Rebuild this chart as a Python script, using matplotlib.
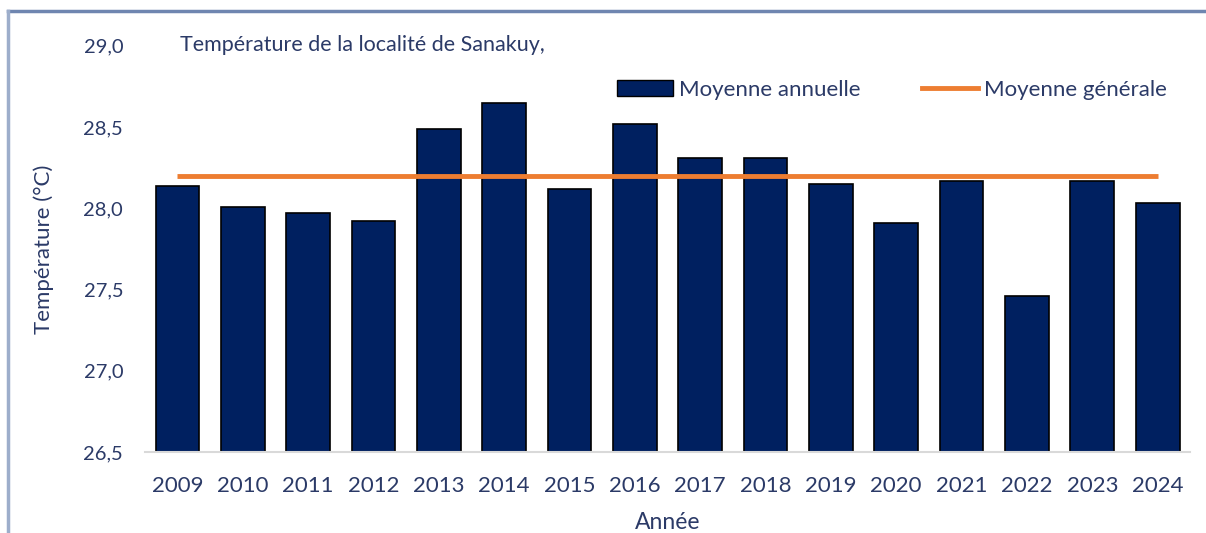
import matplotlib.pyplot as plt
from matplotlib.lines import Line2D
import numpy as np

plt.rcParams['font.family'] = ['Lato', 'DejaVu Sans']

# data
annees = ['2009', '2010', '2011', '2012', '2013', '2014', '2015', '2016',
          '2017', '2018', '2019', '2020', '2021', '2022', '2023', '2024']
moyenne_annuelle = [28.14, 28.01, 27.97, 27.92, 28.49, 28.65, 28.12, 28.52,
                    28.31, 28.31, 28.15, 27.91, 28.17, 27.46, 28.17, 28.03]
moyenne_generale = 28.20
yticks = [26.5, 27.0, 27.5, 28.0, 28.5, 29.0]

navy = '#002060'
txt = '#2B3A67'
orange = '#ED7D31'

fig = plt.figure(figsize=(12.06, 5.33), dpi=100)
ax = fig.add_axes([0.120, 0.152, 0.867, 0.762])

x = np.arange(len(annees))
ax.bar(x, [v - 26.5 for v in moyenne_annuelle], bottom=26.5, width=0.67,
       color=navy, edgecolor='black', linewidth=1.2, label='Moyenne annuelle', zorder=2)
ax.plot(x, [moyenne_generale] * len(x), color=orange, linewidth=3.5,
        label='Moyenne générale', zorder=3, solid_capstyle='butt')

ax.set_xlim(-0.5, len(annees) - 0.5)
ax.set_ylim(26.5, 29.0)
ax.set_xticks(x)
ax.set_xticklabels(annees)
ax.set_yticks(yticks)
ax.set_yticklabels([f'{v:.1f}'.replace('.', ',') for v in yticks])
ax.tick_params(axis='both', length=0, colors=txt)
ax.tick_params(axis='x', pad=17, labelsize=16)
ax.tick_params(axis='y', pad=15.5, labelsize=14.5)

for s in ['top', 'right', 'left']:
    ax.spines[s].set_visible(False)
ax.spines['bottom'].set_color('#D9D9D9')
ax.spines['bottom'].set_linewidth(1.5)

ax.set_xlabel('Année', color=txt, fontsize=16.5, labelpad=12)
ax.set_ylabel('Température (°C)', color=txt, fontsize=16, labelpad=21)

fig.text(0.149, 0.915, 'Température de la localité de Sanakuy,', color=txt,
         fontsize=15.5, ha='left', va='center')

handles = [plt.Rectangle((0, 0), 1, 1, facecolor=navy, edgecolor='black'),
           Line2D([0], [0], color=orange, linewidth=3.5)]
fig.legend(handles, ['Moyenne annuelle', 'Moyenne générale'], ncol=2, frameon=False,
           loc='center left', bbox_to_anchor=(0.495, 0.831), fontsize=16,
           labelcolor=txt, handlelength=2.5, handleheight=0.72, columnspacing=2.8,
           handletextpad=0.27)

# outer frame (top and left edges)
fig.add_artist(Line2D([0.0066, 1.0], [0.979, 0.979], color='#6F86B0', linewidth=2.5))
fig.add_artist(Line2D([0.0066, 0.0066], [0.0, 0.979], color='#9DAECB', linewidth=2.5))

fig.savefig('out.png', dpi=100)
